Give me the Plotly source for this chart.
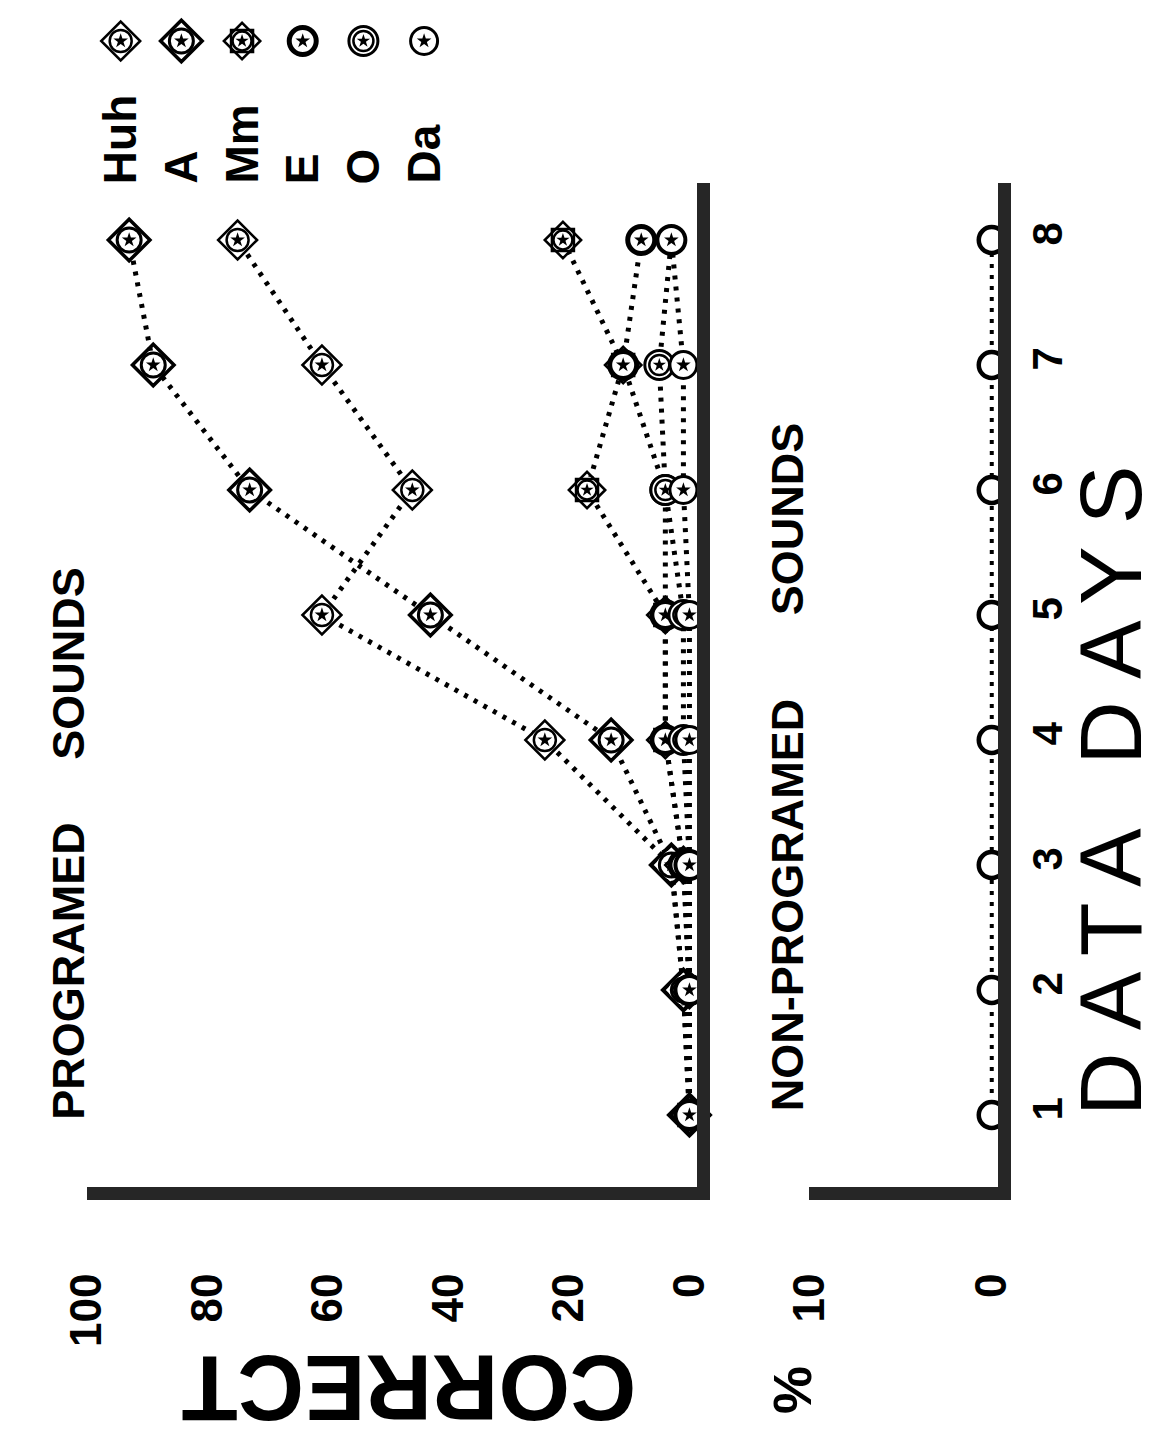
import plotly.graph_objects as go

# ---------------- data ----------------
days = [1, 2, 3, 4, 5, 6, 7, 8]
day_labels = ["1", "2", "3", "4", "5", "6", "7", "8"]
sounds = ["Huh", "A", "Mm", "E", "O", "Da"]

huh = [0, 1, 3, 24, 61, 46, 61, 75]
a_vals = [0, 1, 3, 13, 43, 73, 89, 93]
mm = [0, 0, 1, 4, 4, 17, 11, 21]
e_vals = [0, 0, 1, 4, 4, 4, 11, 8]
o_vals = [0, 0, 0, 1, 1, 4, 5, 3]
da = [0, 0, 0, 0, 0, 1, 1, 3]

nonprog = [0, 0, 0, 0, 0, 0, 0, 0]

pct_ticks_top = [100, 80, 60, 40, 20, 0]
pct_ticks_bottom = [10, 0]

series = {"Huh": huh, "A": a_vals, "Mm": mm, "E": e_vals, "O": o_vals, "Da": da}

# ---------------- styles ----------------
W, H = 1168, 1438
INK = "black"
BAR = "#262626"
FONT = "Liberation Sans, Arial, sans-serif"

def px(x):
    return x / W

def py(y):
    return 1 - y / H

# marker layers: (symbol, size, line width, fill color)
marker_layers = {
    "Huh": [("circle", 27, 0, "white"), ("diamond-open", 30, 2.5, INK),
            ("circle-open", 22, 2.5, INK), ("star", 11, 0, INK)],
    "A": [("circle", 29, 0, "white"), ("diamond-open", 32, 3.5, INK),
          ("circle-open", 24, 3, INK), ("star", 11, 0, INK)],
    "Mm": [("circle", 27, 0, "white"), ("square-open", 22, 2.5, INK),
           ("diamond-open", 28, 2.5, INK), ("circle-open", 19, 2.5, INK),
           ("star", 10, 0, INK)],
    "E": [("circle", 28, 0, "white"), ("circle-open", 27, 5, INK),
          ("star", 11, 0, INK)],
    "O": [("circle", 29, 0, "white"), ("circle-open", 29, 3, INK),
          ("circle-open", 20, 2.5, INK), ("star", 10, 0, INK)],
    "Da": [("circle", 27, 0, "white"), ("circle-open", 27, 3, INK),
           ("star", 11, 0, INK)],
}

def marker_dict(sym, size, lw, col):
    if sym.endswith("-open"):
        return dict(symbol=sym, size=size, color=col, line=dict(width=lw, color=col))
    return dict(symbol=sym, size=size, color=col, line=dict(width=0))

fig = go.Figure()

# dotted lines (top panel)
for name, vals in series.items():
    fig.add_trace(go.Scatter(
        x=vals, y=days, mode="lines", xaxis="x", yaxis="y",
        line=dict(color=INK, width=5, dash="4px,7px"),
        hoverinfo="skip", showlegend=False, cliponaxis=False))

# markers (top panel)
for name, vals in series.items():
    for sym, size, lw, col in marker_layers[name]:
        fig.add_trace(go.Scatter(
            x=vals, y=days, mode="markers", xaxis="x", yaxis="y",
            marker=marker_dict(sym, size, lw, col),
            hoverinfo="skip", showlegend=False, cliponaxis=False))

# bottom panel (non-programed sounds)
fig.add_trace(go.Scatter(
    x=nonprog, y=days, mode="lines", xaxis="x2", yaxis="y2",
    line=dict(color=INK, width=4, dash="4px,7px"),
    hoverinfo="skip", showlegend=False, cliponaxis=False))
fig.add_trace(go.Scatter(
    x=nonprog, y=days, mode="markers", xaxis="x2", yaxis="y2",
    marker=dict(symbol="circle", size=26, color="white",
                line=dict(width=4.5, color=INK)),
    hoverinfo="skip", showlegend=False, cliponaxis=False))

# legend (custom, rotated) drawn on its own hidden axes
legend_pos = list(range(1, len(sounds) + 1))
for i, name in enumerate(sounds):
    for sym, size, lw, col in marker_layers[name]:
        fig.add_trace(go.Scatter(
            x=[legend_pos[i]], y=[0], mode="markers", xaxis="x3", yaxis="y3",
            marker=marker_dict(sym, size, lw, col),
            hoverinfo="skip", showlegend=False, cliponaxis=False))

annotations = []
for i, name in enumerate(sounds):
    annotations.append(dict(
        x=legend_pos[i], xref="x3", y=py(178), yref="paper",
        text=name, showarrow=False, textangle=-90,
        xanchor="center", yanchor="bottom",
        font=dict(family=FONT, size=46, color=INK, weight="bold")))

# titles
annotations += [
    dict(x=px(35), y=py(963), xref="paper", yref="paper", text="PROGRAMED",
         showarrow=False, textangle=-90, xanchor="center", yanchor="middle",
         font=dict(family=FONT, size=45, color=INK, weight="bold")),
    dict(x=px(35), y=py(655), xref="paper", yref="paper", text="SOUNDS",
         showarrow=False, textangle=-90, xanchor="center", yanchor="middle",
         font=dict(family=FONT, size=45, color=INK, weight="bold")),
    dict(x=px(782), y=py(897), xref="paper", yref="paper", text="NON-PROGRAMED",
         showarrow=False, textangle=-90, xanchor="center", yanchor="middle",
         font=dict(family=FONT, size=45, color=INK, weight="bold")),
    dict(x=px(782), y=py(511), xref="paper", yref="paper", text="SOUNDS",
         showarrow=False, textangle=-90, xanchor="center", yanchor="middle",
         font=dict(family=FONT, size=45, color=INK, weight="bold")),
    dict(x=px(1117), y=py(772), xref="paper", yref="paper",
         text='<span style="letter-spacing:22px">DATA DAYS</span>',
         showarrow=False, textangle=-90, xanchor="center", yanchor="middle",
         font=dict(family=FONT, size=88, color=INK)),
    dict(x=px(389), y=py(1380), xref="paper", yref="paper", text="CORRECT",
         showarrow=False, textangle=180, xanchor="center", yanchor="middle",
         font=dict(family=FONT, size=92, color=INK, weight="bold")),
    dict(x=px(787), y=py(1382), xref="paper", yref="paper", text="%",
         showarrow=False, textangle=-90, xanchor="center", yanchor="middle",
         font=dict(family=FONT, size=54, color=INK, weight="bold")),
]

tickfont = dict(family=FONT, size=44, color=INK, weight="bold")

fig.update_layout(
    width=W, height=H,
    margin=dict(l=0, r=0, t=0, b=0),
    paper_bgcolor="white", plot_bgcolor="white",
    showlegend=False,
    annotations=annotations,
    xaxis=dict(domain=[px(55), px(688)], range=[100, -1.2], anchor="y",
               tickvals=pct_ticks_top, ticktext=[str(v) for v in pct_ticks_top],
               tickangle=-90, tickfont=tickfont, ticks="", ticklabelstandoff=56,
               showline=True, linewidth=13, linecolor=BAR,
               showgrid=False, zeroline=False),
    yaxis=dict(domain=[py(1179), py(175)], range=[0.424, 8.456], anchor="x",
               side="right", showticklabels=False, ticks="",
               showline=True, linewidth=13, linecolor=BAR,
               showgrid=False, zeroline=False),
    xaxis2=dict(domain=[px(805), px(1001)], range=[10, -0.35], anchor="y2",
                tickvals=pct_ticks_bottom, ticktext=[str(v) for v in pct_ticks_bottom],
                tickangle=-90, tickfont=tickfont, ticks="", ticklabelstandoff=56,
                showline=True, linewidth=13, linecolor=BAR,
                showgrid=False, zeroline=False),
    yaxis2=dict(domain=[py(1179), py(175)], range=[0.424, 8.456], anchor="x2",
                side="right", tickvals=days, ticktext=day_labels,
                tickangle=-90, tickfont=dict(family=FONT, size=42, color=INK, weight="bold"),
                ticks="", ticklabelstandoff=0,
                showline=True, linewidth=13, linecolor=BAR,
                showgrid=False, zeroline=False),
    xaxis3=dict(domain=[px(58.5), px(436.5)], range=[0.5, 6.5], anchor="y3",
                visible=False),
    yaxis3=dict(domain=[py(55), py(11)], range=[-1, 1], anchor="x3",
                visible=False),
)

fig.write_html("out.html")
